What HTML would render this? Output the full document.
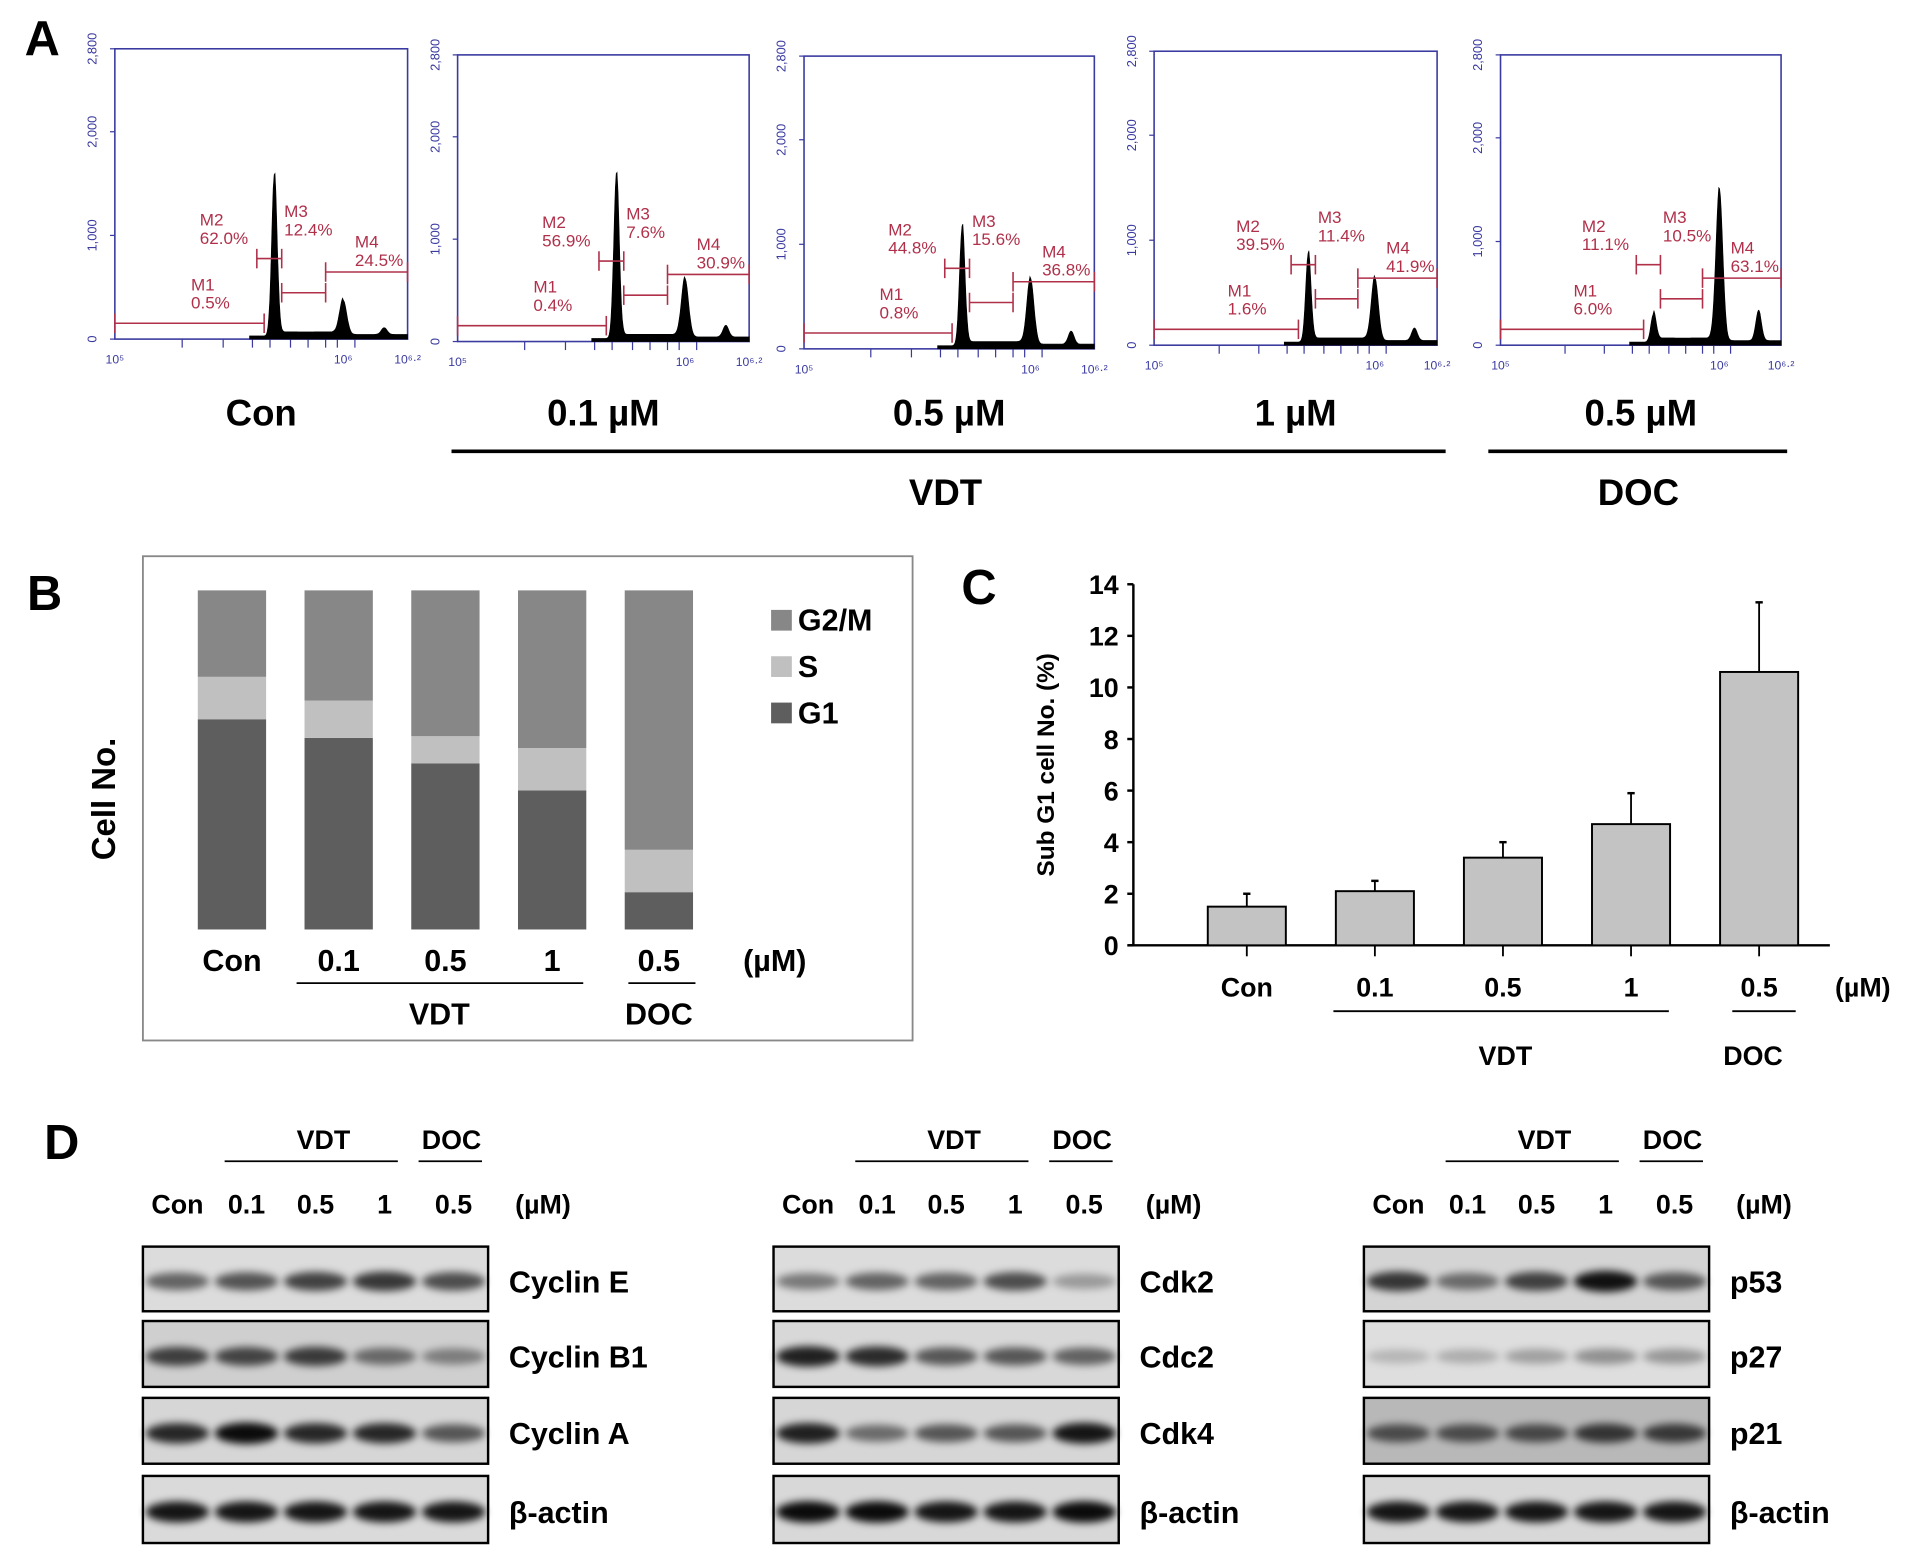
<!DOCTYPE html>
<html><head><meta charset="utf-8">
<style>
html,body{margin:0;padding:0;background:#fff;}
svg{display:block;}
text{font-family:"Liberation Sans",Arial,sans-serif;}
.b{font-weight:bold;}
</style></head>
<body>
<svg id="fig" width="1913" height="1554" viewBox="0 0 1568 1274" xmlns="http://www.w3.org/2000/svg">
<defs>
<filter id="blur" x="-20%" y="-100%" width="140%" height="300%"><feGaussianBlur stdDeviation="3.2"/></filter>
</defs>
<g id="pa"></g>
<g id="pb"></g>
<g id="pc"></g>
<g id="pd"></g>
</svg>
<script>
// ---------- Panel A data ----------
const histLabels = ["Con","0.1 µM","0.5 µM","1 µM","0.5 µM"];
const g1Peak = [1565,1620,1150,850,270];
const g2Peak = [330,570,630,600,1470];
const subG1Peak = [0,0,0,0,0];
const m1Pct = ["0.5%","0.4%","0.8%","1.6%","6.0%"];
const m2Pct = ["62.0%","56.9%","44.8%","39.5%","11.1%"];
const m3Pct = ["12.4%","7.6%","15.6%","11.4%","10.5%"];
const m4Pct = ["24.5%","30.9%","36.8%","41.9%","63.1%"];
const histYTicks = [0,1000,2000,2800];
const histYTickLabels = ["0","1,000","2,000","2,800"];

// ---------- Panel B data ----------
const bCats = ["Con","0.1","0.5","1","0.5"];
const bG1 = [62,56.5,49,41,11];
const bS = [12.5,11,8,12.5,12.5];
const bG2M = [25.5,32.5,43,46.5,76.5];

// ---------- Panel C data ----------
const cCats = ["Con","0.1","0.5","1","0.5"];
const cVals = [1.5,2.1,3.4,4.7,10.6];
const cErr = [0.5,0.4,0.6,1.2,2.7];
const cTicks = [0,2,4,6,8,10,12,14];

// ---------- Panel D data ----------
const dLanes = ["Con","0.1","0.5","1","0.5"];
const blot1Names = ["Cyclin E","Cyclin B1","Cyclin A","β-actin"];
const blot2Names = ["Cdk2","Cdc2","Cdk4","β-actin"];
const blot3Names = ["p53","p27","p21","β-actin"];
const blot1Int = [[0.55,0.62,0.7,0.75,0.65],[0.7,0.68,0.72,0.5,0.4],[0.82,0.95,0.82,0.82,0.6],[0.9,0.9,0.9,0.9,0.9]];
const blot2Int = [[0.45,0.55,0.55,0.65,0.3],[0.85,0.8,0.6,0.6,0.55],[0.85,0.5,0.6,0.6,0.9],[0.95,0.95,0.9,0.9,0.95]];
const blot3Int = [[0.75,0.5,0.7,0.92,0.6],[0.18,0.22,0.28,0.35,0.32],[0.6,0.6,0.62,0.72,0.7],[0.9,0.9,0.9,0.9,0.9]];

const NS="http://www.w3.org/2000/svg";
function mk(parent,tag,attrs,txt){const e=document.createElementNS(NS,tag);for(const k in attrs)e.setAttribute(k,attrs[k]);if(txt!==undefined)e.textContent=txt;parent.appendChild(e);return e;}

// ================= Panel A =================
const pa=document.getElementById('pa');
let t=mk(pa,'text',{x:20,y:45,'font-size':40,'class':'b'},'A');


const boxes=[[94,40,334,278],[375,45,614,280],[659,46,897,286],[946,42,1178,283],[1230,45,1460,283]];
const red="#b0304a", blue="#3a3aa0";
boxes.forEach((bx,i)=>{
  const [L,T,R,B]=bx, W=R-L, H=B-T;
  const g=mk(pa,'g',{});
  
  
  const yS=v=>B-v/2800*H;
  const xS=p=>L+p*W;
  mk(g,'rect',{x:L,y:T,width:W,height:H,fill:'none',stroke:blue,'stroke-width':1.3});
  histYTicks.forEach((v,k)=>{
    mk(g,'line',{x1:L-4,x2:L,y1:yS(v),y2:yS(v),stroke:blue});
    const tx=L-15, ty=yS(v);
    const tt=mk(g,'text',{x:tx,y:ty,'font-size':10.5,fill:blue,'text-anchor':'middle',transform:`rotate(-90 ${tx} ${ty})`},histYTickLabels[k]);
    
    
  });
  [0.23,0.37,0.47,0.53,0.6,0.66,0.72,0.76,0.82].forEach(p=>mk(g,'line',{x1:xS(p),x2:xS(p),y1:B,y2:B+7,stroke:blue}));
  [[0,'10⁵'],[0.78,'10⁶'],[1,'10⁶·²']].forEach(a=>mk(g,'text',{x:xS(a[0]),y:B+20,'font-size':10,fill:blue,'text-anchor':'middle'},a[1]));
  const p1=0.545, p2=0.78;
  let d=`M${xS(0.46)},${B}`;
  for(let p=0.46;p<=1.0001;p+=0.003){
    let v=30;
    if(p>p1&&p<p2) v=70;
    if(p>p2) v=45;
    v+=g1Peak[i]*Math.exp(-Math.pow((p-p1)/0.013,2));
    v+=g2Peak[i]*Math.exp(-Math.pow((p-p2)/0.017,2));
    v+=g2Peak[i]*0.2*Math.exp(-Math.pow((p-(p2+0.14))/0.014,2));
    v+=subG1Peak[i]*Math.exp(-Math.pow((p-0.5)/0.02,2));
    d+=` L${xS(p).toFixed(1)},${yS(v).toFixed(1)}`;
  }
  d+=` L${R},${B} Z`;
  const hp=mk(g,'path',{d:d,fill:'#000',stroke:'#000','stroke-width':0.5});
  
  
  const mL=(x1,x2,y)=>{mk(g,'line',{x1:x1,x2:x2,y1:y,y2:y,stroke:red,'stroke-width':1.3});mk(g,'line',{x1:x1,x2:x1,y1:y-8,y2:y+8,stroke:red,'stroke-width':1.3});mk(g,'line',{x1:x2,x2:x2,y1:y-8,y2:y+8,stroke:red,'stroke-width':1.3});};
  const xa=xS(p1-0.035), xb=xS(p1+0.025), xc=xS(p2-0.06);
  mL(L,xa,B-13); mL(xa-6,xb,B-66); mL(xb,xc,B-38); mL(xc,R,B-55);
  const lab=(x,y,a,b)=>{mk(g,'text',{x:x,y:y,'font-size':14,fill:red},a);mk(g,'text',{x:x,y:y+15,'font-size':14,fill:red},b);};
  lab(xS(0.26),B-40,'M1',m1Pct[i]);
  lab(xS(0.29),B-93,'M2',m2Pct[i]);
  lab(xb+2,B-100,'M3',m3Pct[i]);
  lab(xS(0.82),B-75,'M4',m4Pct[i]);
  const cl=mk(pa,'text',{x:(L+R)/2,y:349,'font-size':30,'class':'b','text-anchor':'middle'},histLabels[i]);
  
  
});
mk(pa,'line',{x1:370,x2:1185,y1:370,y2:370,stroke:'#000','stroke-width':3});
mk(pa,'line',{x1:1220,x2:1465,y1:370,y2:370,stroke:'#000','stroke-width':3});
t=mk(pa,'text',{x:775,y:414,'font-size':30,'class':'b','text-anchor':'middle'},'VDT');

t=mk(pa,'text',{x:1343,y:414,'font-size':30,'class':'b','text-anchor':'middle'},'DOC');


// ================= Panel B =================
const pb=document.getElementById('pb');
t=mk(pb,'text',{x:22,y:500,'font-size':40,'class':'b'},'B');

mk(pb,'rect',{x:117,y:456,width:631,height:397,fill:'none',stroke:'#888','stroke-width':1.5});
const bTop=484,bBot=762,bX0=162,bStep=87.5,bW=56;
const bY=v=>(bBot-bTop)*v/100;
bCats.forEach((c,i)=>{
  const x=bX0+i*bStep;
  const tot=bG1[i]+bS[i]+bG2M[i];
  let y=bBot;
  const segs=[[bG1[i],'#5e5e5e','bar-g1'],[bS[i],'#c0c0c0','bar-s'],[bG2M[i],'#878787','bar-g2m']];
  segs.forEach(s=>{const h=bY(s[0]/tot*100);y-=h;const r=mk(pb,'rect',{x:x,y:y,width:bW,height:h,fill:s[1]});
    });
  const l=mk(pb,'text',{x:x+bW/2,y:796,'font-size':25,'class':'b','text-anchor':'middle'},c);
  
});
mk(pb,'text',{x:635,y:796,'font-size':25,'class':'b','text-anchor':'middle'},'(µM)');
mk(pb,'line',{x1:243,x2:478,y1:806,y2:806,stroke:'#000','stroke-width':1.5});
mk(pb,'line',{x1:515,x2:570,y1:806,y2:806,stroke:'#000','stroke-width':1.5});
mk(pb,'text',{x:360,y:840,'font-size':25,'class':'b','text-anchor':'middle'},'VDT');
mk(pb,'text',{x:540,y:840,'font-size':25,'class':'b','text-anchor':'middle'},'DOC');
t=mk(pb,'text',{x:94,y:655,'font-size':27,'class':'b','text-anchor':'middle',transform:'rotate(-90 94 655)'},'Cell  No.');

[['G2/M','#878787',500],['S','#c0c0c0',538],['G1','#5e5e5e',576]].forEach(a=>{
  const g=mk(pb,'g',{});
  
  mk(g,'rect',{x:632,y:a[2],width:17,height:17,fill:a[1]});
  mk(g,'text',{x:654,y:a[2]+17,'font-size':25,'class':'b'},a[0]);
});

// ================= Panel C =================
const pc=document.getElementById('pc');
t=mk(pc,'text',{x:788,y:495,'font-size':40,'class':'b'},'C');

const cX0=929,cY0=775,cYpx=(775-479)/14;
const cY=v=>cY0-v*cYpx;
mk(pc,'line',{x1:cX0,x2:cX0,y1:cY(14),y2:cY0,stroke:'#000','stroke-width':2});
mk(pc,'line',{x1:cX0-4,x2:1500,y1:cY0,y2:cY0,stroke:'#000','stroke-width':2});
cTicks.forEach(v=>{
  mk(pc,'line',{x1:cX0-5,x2:cX0,y1:cY(v),y2:cY(v),stroke:'#000','stroke-width':2});
  const l=mk(pc,'text',{x:cX0-12,y:cY(v)+8,'font-size':22,'class':'b','text-anchor':'end'},v);
  
});
const cBar0=990,cStep=105,cW=64;
cCats.forEach((c,i)=>{
  const x=cBar0+i*cStep, cx=x+cW/2;
  mk(pc,'line',{x1:cx,x2:cx,y1:cY(cVals[i]),y2:cY(cVals[i]+cErr[i]),stroke:'#000','stroke-width':1.5});
  mk(pc,'line',{x1:cx-3,x2:cx+3,y1:cY(cVals[i]+cErr[i]),y2:cY(cVals[i]+cErr[i]),stroke:'#000','stroke-width':2});
  const r=mk(pc,'rect',{x:x,y:cY(cVals[i]),width:cW,height:cY0-cY(cVals[i]),fill:'#c3c3c3',stroke:'#000','stroke-width':1.6});
  
  mk(pc,'line',{x1:cx,x2:cx,y1:cY0,y2:cY0+9,stroke:'#000','stroke-width':1.5});
  const l=mk(pc,'text',{x:cx,y:817,'font-size':22,'class':'b','text-anchor':'middle'},c);
  
});
mk(pc,'text',{x:1527,y:817,'font-size':22,'class':'b','text-anchor':'middle'},'(µM)');
mk(pc,'line',{x1:1093,x2:1368,y1:829,y2:829,stroke:'#000','stroke-width':1.5});
mk(pc,'line',{x1:1420,x2:1472,y1:829,y2:829,stroke:'#000','stroke-width':1.5});
mk(pc,'text',{x:1234,y:873,'font-size':22,'class':'b','text-anchor':'middle'},'VDT');
mk(pc,'text',{x:1437,y:873,'font-size':22,'class':'b','text-anchor':'middle'},'DOC');
t=mk(pc,'text',{x:864,y:627,'font-size':20,'class':'b','text-anchor':'middle',transform:'rotate(-90 864 627)'},'Sub G1 cell No. (%)');


// ================= Panel D =================
const pd=document.getElementById('pd');
t=mk(pd,'text',{x:36,y:950,'font-size':40,'class':'b'},'D');

const rowsY=[[1022,1075],[1083,1137],[1146,1200],[1210,1265]];
function blotGroup(x0,names,ints,bgs){
  const W=283, lw=W/5;
  mk(pd,'text',{x:x0+148,y:942,'font-size':22,'class':'b','text-anchor':'middle'},'VDT');
  mk(pd,'line',{x1:x0+67,x2:x0+209,y1:952,y2:952,stroke:'#000','stroke-width':1.5});
  mk(pd,'text',{x:x0+253,y:942,'font-size':22,'class':'b','text-anchor':'middle'},'DOC');
  mk(pd,'line',{x1:x0+226,x2:x0+278,y1:952,y2:952,stroke:'#000','stroke-width':1.5});
  dLanes.forEach((l,j)=>{const tl=mk(pd,'text',{x:x0+lw*(j+0.5),y:995,'font-size':22,'class':'b','text-anchor':'middle'},l);
    });
  mk(pd,'text',{x:x0+328,y:995,'font-size':22,'class':'b','text-anchor':'middle'},'(µM)');
  names.forEach((n,r)=>{
    const [y1,y2]=rowsY[r], cy=(y1+y2)/2+2;
    const g=mk(pd,'g',{});
    
    
    mk(g,'rect',{x:x0,y:y1,width:W,height:y2-y1,fill:bgs[r]});
    ints[r].forEach((v,j)=>{
      const cx=x0+lw*(j+0.5);
      const e=mk(g,'ellipse',{cx:cx,cy:cy,rx:lw*0.46,ry:5+4*v,fill:'#000','fill-opacity':v,filter:'url(#blur)'});
      
    });
    mk(g,'rect',{x:x0,y:y1,width:W,height:y2-y1,fill:'none',stroke:'#000','stroke-width':2});
    const tl=mk(pd,'text',{x:x0+300,y:cy+9,'font-size':25,'class':'b'},n);
    
  });
}
blotGroup(117,blot1Names,blot1Int,['#dcdcdc','#cfcfcf','#d6d6d6','#dadada']);
blotGroup(634,blot2Names,blot2Int,['#dcdcdc','#d8d8d8','#d6d6d6','#d8d8d8']);
blotGroup(1118,blot3Names,blot3Int,['#d4d4d4','#dedede','#b8b8b8','#d8d8d8']);
</script>
</body></html>
